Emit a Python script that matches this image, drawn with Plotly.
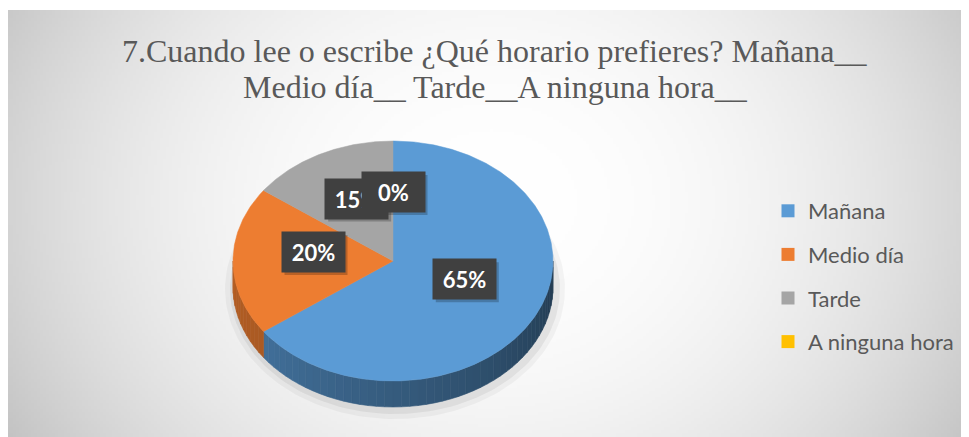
import math, zlib, struct, base64
import numpy as np
import plotly.graph_objects as go

# ---------------- data ----------------
categories = ["Mañana", "Medio día", "Tarde", "A ninguna hora"]
percent_values = [65, 20, 15, 0]
slice_colors = ["#5B9BD5", "#ED7D31", "#A5A5A5", "#FFC000"]
title_lines = ["7.Cuando lee o escribe ¿Qué horario prefieres? Mañana__",
               "Medio día__ Tarde__A ninguna hora__"]

# the page body adds an 8px margin; the figure fills the rest of the window
OFF = 8
W, H = 969 - OFF, 437 - OFF
# pie geometry (screen-pixel units on the axes)
cx, cy, rx, ry, depth = 393, 261, 160, 120, 26
BOX_W, BOX_H = 63, 40


def pt(theta, f=1.0, dz=0.0):
    t = math.radians(theta)
    return cx + rx * f * math.sin(t), cy - ry * f * math.cos(t) + dz


def arc(a, b, f=1.0, dz=0.0, step=1.0):
    n = max(2, int(abs(b - a) / step) + 1)
    return [pt(a + (b - a) * i / (n - 1), f, dz) for i in range(n)]


def hex_rgb(h):
    h = h.lstrip("#")
    return tuple(int(h[i:i + 2], 16) for i in (0, 2, 4))


def px_x(p):
    return (p - OFF) / W


def px_y(p):
    return 1 - (p - OFF) / H


# --------------- background gradient image ---------------
def gradient_png(w, h):
    ys, xs = np.mgrid[0:h, 0:w]
    px = 8 + xs * (961 / w)
    py = 10 + ys * (427 / h)
    d2 = ((px - 490) / 540) ** 2 + ((py - 200) / 450) ** 2
    val = 255 - 55 * np.clip(d2, 0, 1.3) ** 1.1
    arr = np.clip(val, 0, 255).astype(np.uint8)
    raw = b"".join(b"\x00" + arr[r].tobytes() for r in range(h))

    def chunk(tag, data):
        c = struct.pack(">I", len(data)) + tag + data
        return c + struct.pack(">I", zlib.crc32(tag + data) & 0xffffffff)

    png = b"\x89PNG\r\n\x1a\n" + chunk(b"IHDR", struct.pack(">IIBBBBB", w, h, 8, 0, 0, 0, 0)) \
        + chunk(b"IDAT", zlib.compress(raw, 9)) + chunk(b"IEND", b"")
    return "data:image/png;base64," + base64.b64encode(png).decode()


fig = go.Figure()

# soft shadow below the pie
for grow, alpha in [(10, 0.04), (5, 0.06)]:
    pts = arc(0, 360, 1.0, 0, 2)
    xs = [cx + (x - cx) * (rx + grow) / rx + 2 for x, y in pts]
    ys = [cy + depth + 2 + (y - cy) * (ry + grow) / ry for x, y in pts]
    fig.add_trace(go.Scatter(x=xs, y=ys, mode="lines", fill="toself", fillcolor=f"rgba(0,0,0,{alpha})",
                             line=dict(width=0), hoverinfo="skip", showlegend=False))

# slice angles (start at 12 o'clock, clockwise)
total = sum(percent_values)
starts, ends = [], []
acc = 0.0
for v in percent_values:
    starts.append(acc / total * 360)
    acc += v
    ends.append(acc / total * 360)


def shade(theta):
    if theta <= 234:
        return 0.38 + 0.34 * (theta - 90) / 144
    return min(0.76, 0.72 + 0.04 * (theta - 234) / 36)


# side walls (visible front half: 90..270 deg)
for i, v in enumerate(percent_values):
    if v <= 0:
        continue
    a, b = max(starts[i], 90), min(ends[i], 270)
    if a >= b:
        continue
    base = hex_rgb(slice_colors[i])
    steps = max(1, int((b - a) / 3))
    for k in range(steps):
        s = a + (b - a) * k / steps
        e = a + (b - a) * (k + 1) / steps
        top = arc(s, e, 1.0, 0, 0.5)
        bot = arc(e, s, 1.0, depth, 0.5)
        poly = top + bot
        f = shade((s + e) / 2)
        col = "rgb(%d,%d,%d)" % tuple(int(c * f) for c in base)
        fig.add_trace(go.Scatter(x=[p[0] for p in poly] + [poly[0][0]],
                                 y=[p[1] for p in poly] + [poly[0][1]],
                                 mode="lines", fill="toself", fillcolor=col,
                                 line=dict(width=0.6, color=col), hoverinfo="skip", showlegend=False))

# top faces
for i, v in enumerate(percent_values):
    if v <= 0:
        continue
    poly = [(cx, cy)] + arc(starts[i], ends[i], 1.0, 0, 0.5) + [(cx, cy)]
    fig.add_trace(go.Scatter(x=[p[0] for p in poly], y=[p[1] for p in poly], mode="lines",
                             fill="toself", fillcolor=slice_colors[i],
                             line=dict(width=0.5, color=slice_colors[i]),
                             hoverinfo="skip", showlegend=False))

# legend entries
for i, name in enumerate(categories):
    fig.add_trace(go.Scatter(x=[None], y=[None], mode="markers", name=name, legendgroup=name,
                             marker=dict(symbol="square", size=13, color=slice_colors[i])))

# data labels (dark boxes with a soft drop shadow)
annotations, shapes = [], []
for i, v in enumerate(percent_values):
    mid = (starts[i] + ends[i]) / 2
    lx, ly = pt(mid, 0.5, -9)
    shapes.append(dict(type="rect", xref="x", yref="y", layer="above",
                       x0=lx - BOX_W / 2 + 3, x1=lx + BOX_W / 2 + 3,
                       y0=ly - BOX_H / 2 + 3, y1=ly + BOX_H / 2 + 3,
                       fillcolor="rgba(0,0,0,0.22)", line=dict(width=0)))
    annotations.append(dict(x=lx, y=ly, xref="x", yref="y", showarrow=False, text=f"<b>{v}%</b>",
                            width=BOX_W - 14, height=BOX_H - 14, borderpad=7,
                            align="center", valign="middle", bgcolor="#404040",
                            font=dict(family="Lato", size=22, color="white")))

for line, ty in zip(title_lines, [51, 87]):
    annotations.append(dict(x=495, y=ty, xref="x", yref="y", showarrow=False, text=line,
                            font=dict(family="Liberation Serif", size=32, color="#595959"),
                            xanchor="center", yanchor="middle", align="center"))

fig.update_layout(
    width=W, height=H, margin=dict(l=0, r=0, t=0, b=0),
    paper_bgcolor="white", plot_bgcolor="rgba(0,0,0,0)",
    xaxis=dict(range=[OFF, 969], visible=False, fixedrange=True),
    yaxis=dict(range=[437, OFF], visible=False, fixedrange=True),
    annotations=annotations,
    shapes=shapes,
    images=[dict(source=gradient_png(320, 142), xref="paper", yref="paper",
                 x=0, y=px_y(10), sizex=1, sizey=427 / H,
                 xanchor="left", yanchor="top", sizing="stretch", layer="below")],
    legend=dict(x=px_x(768), y=px_y(190), xanchor="left", yanchor="top",
                font=dict(family="Lato", size=22, color="#595959"),
                bgcolor="rgba(0,0,0,0)", tracegroupgap=12, itemwidth=30),
    hovermode=False,
    showlegend=True,
)

fig.write_html("out.html")
